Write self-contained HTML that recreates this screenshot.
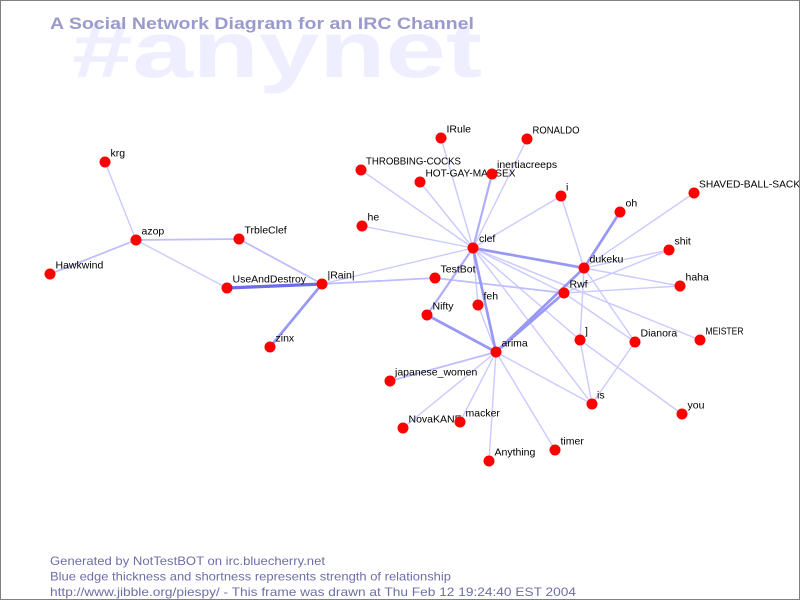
<!DOCTYPE html>
<html><head><meta charset="utf-8"><style>
html,body{margin:0;padding:0;background:#fff;}
#c{position:relative;width:800px;height:600px;box-sizing:border-box;border:1px solid #808080;overflow:hidden;background:#fff;}
svg{position:absolute;left:-1px;top:-1px;}
</style></head><body><div id="c">
<svg width="800" height="600" viewBox="0 0 800 600" xmlns="http://www.w3.org/2000/svg" font-family="Liberation Sans, Arial, sans-serif">
<text x="72" y="77" font-size="80" font-weight="bold" fill="#eeeeff" textLength="410" lengthAdjust="spacingAndGlyphs">#anynet</text>
<text x="50" y="29" font-size="17" font-weight="bold" fill="#9a9acc" textLength="424" lengthAdjust="spacingAndGlyphs">A Social Network Diagram for an IRC Channel</text>
<g stroke-linecap="round" fill="none">
<g stroke="#cacaff" stroke-width="1.4">
<line x1="105" y1="162" x2="136" y2="240"/>
<line x1="136" y1="240" x2="227" y2="288"/>
<line x1="322" y1="284" x2="473" y2="248"/>
<line x1="473" y1="248" x2="441" y2="138"/>
<line x1="473" y1="248" x2="527" y2="139"/>
<line x1="473" y1="248" x2="362" y2="226"/>
<line x1="473" y1="248" x2="561" y2="196"/>
<line x1="473" y1="248" x2="564" y2="293"/>
<line x1="473" y1="248" x2="580" y2="340"/>
<line x1="473" y1="248" x2="592" y2="404"/>
<line x1="473" y1="248" x2="700" y2="340"/>
<line x1="473" y1="248" x2="478" y2="305"/>
<line x1="478" y1="305" x2="496" y2="352"/>
<line x1="584" y1="268" x2="694" y2="193"/>
<line x1="584" y1="268" x2="669" y2="250"/>
<line x1="584" y1="268" x2="680" y2="286"/>
<line x1="584" y1="268" x2="561" y2="196"/>
<line x1="584" y1="268" x2="580" y2="340"/>
<line x1="584" y1="268" x2="635" y2="342"/>
<line x1="564" y1="293" x2="669" y2="250"/>
<line x1="564" y1="293" x2="680" y2="286"/>
<line x1="564" y1="293" x2="635" y2="342"/>
<line x1="580" y1="340" x2="592" y2="404"/>
<line x1="580" y1="340" x2="682" y2="414"/>
<line x1="635" y1="342" x2="592" y2="404"/>
<line x1="496" y1="352" x2="403" y2="428"/>
<line x1="496" y1="352" x2="460" y2="422"/>
<line x1="496" y1="352" x2="489" y2="461"/>
<line x1="496" y1="352" x2="555" y2="450"/>
<line x1="496" y1="352" x2="592" y2="404"/>
<line x1="473" y1="248" x2="361" y2="170"/>
<line x1="473" y1="248" x2="420" y2="182"/>
</g>
<g stroke="#bdbdff" stroke-width="1.8">
<line x1="136" y1="240" x2="50" y2="274"/>
<line x1="136" y1="240" x2="239" y2="239"/>
<line x1="239" y1="239" x2="322" y2="284"/>
<line x1="322" y1="284" x2="435" y2="278"/>
<line x1="435" y1="278" x2="564" y2="293"/>
<line x1="496" y1="352" x2="390" y2="381"/>
</g>
<g stroke="#aeaefc" stroke-width="2.2">
<line x1="473" y1="248" x2="492" y2="174"/>
<line x1="473" y1="248" x2="427" y2="315"/>
</g>
<g stroke="#9898f6" stroke-width="2.7">
<line x1="473" y1="248" x2="584" y2="268"/>
<line x1="473" y1="248" x2="496" y2="352"/>
<line x1="427" y1="315" x2="496" y2="352"/>
<line x1="584" y1="268" x2="620" y2="212"/>
<line x1="584" y1="268" x2="496" y2="352"/>
<line x1="564" y1="293" x2="496" y2="352"/>
<line x1="322" y1="284" x2="270" y2="347"/>
</g>
<line x1="227" y1="288" x2="322" y2="284" stroke="#6d6de8" stroke-width="3.3"/>
</g>
<g font-size="10.5" fill="#000">
<text x="110.5" y="156.5">krg</text>
<text x="141.5" y="234.5">azop</text>
<text x="55.5" y="268.5">Hawkwind</text>
<text x="244.5" y="233.5">TrbleClef</text>
<text x="232.5" y="282.5">UseAndDestroy</text>
<text x="327.5" y="278.5">|Rain|</text>
<text x="275.5" y="341.5">zinx</text>
<text x="446.5" y="132.5">IRule</text>
<text x="532.5" y="133.5" textLength="47" lengthAdjust="spacingAndGlyphs">RONALDO</text>
<text x="366" y="164.5" textLength="95" lengthAdjust="spacingAndGlyphs">THROBBING-COCKS</text>
<text x="425.5" y="176.5" textLength="90" lengthAdjust="spacingAndGlyphs">HOT-GAY-MANSEX</text>
<text x="497" y="168">inertiacreeps</text>
<text x="566" y="190.5">i</text>
<text x="367.5" y="220.5">he</text>
<text x="479" y="242">clef</text>
<text x="440.5" y="272.5">TestBot</text>
<text x="483.5" y="299.5">feh</text>
<text x="432.5" y="309.5">Nifty</text>
<text x="569.5" y="287.5">Rwf</text>
<text x="589.5" y="262.5">dukeku</text>
<text x="625.5" y="206.5">oh</text>
<text x="699" y="187.5" textLength="108" lengthAdjust="spacingAndGlyphs">SHAVED-BALL-SACKS</text>
<text x="674.5" y="244.5">shit</text>
<text x="685.5" y="280.5">haha</text>
<text x="585" y="334.5">]</text>
<text x="640.5" y="336.5">Dianora</text>
<text x="705.5" y="334.5" textLength="38" lengthAdjust="spacingAndGlyphs">MEISTER</text>
<text x="597" y="398.5">is</text>
<text x="687.5" y="408.5">you</text>
<text x="501.5" y="346.5">arima</text>
<text x="395" y="375.5">japanese_women</text>
<text x="408.5" y="422.5">NovaKANE</text>
<text x="465.5" y="416.5">macker</text>
<text x="494.5" y="455.5">Anything</text>
<text x="560.5" y="444.5">timer</text>
</g>
<g fill="#ff0000">
<circle cx="105" cy="162" r="5.5"/><circle cx="136" cy="240" r="5.5"/><circle cx="50" cy="274" r="5.5"/>
<circle cx="239" cy="239" r="5.5"/><circle cx="227" cy="288" r="5.5"/><circle cx="322" cy="284" r="5.5"/>
<circle cx="270" cy="347" r="5.5"/><circle cx="441" cy="138" r="5.5"/><circle cx="527" cy="139" r="5.5"/>
<circle cx="361" cy="170" r="5.5"/><circle cx="420" cy="182" r="5.5"/><circle cx="492" cy="174" r="5.5"/>
<circle cx="561" cy="196" r="5.5"/><circle cx="362" cy="226" r="5.5"/><circle cx="473" cy="248" r="5.5"/>
<circle cx="435" cy="278" r="5.5"/><circle cx="478" cy="305" r="5.5"/><circle cx="427" cy="315" r="5.5"/>
<circle cx="564" cy="293" r="5.5"/><circle cx="584" cy="268" r="5.5"/><circle cx="620" cy="212" r="5.5"/>
<circle cx="694" cy="193" r="5.5"/><circle cx="669" cy="250" r="5.5"/><circle cx="680" cy="286" r="5.5"/>
<circle cx="580" cy="340" r="5.5"/><circle cx="635" cy="342" r="5.5"/><circle cx="700" cy="340" r="5.5"/>
<circle cx="592" cy="404" r="5.5"/><circle cx="682" cy="414" r="5.5"/><circle cx="496" cy="352" r="5.5"/>
<circle cx="390" cy="381" r="5.5"/><circle cx="403" cy="428" r="5.5"/><circle cx="460" cy="422" r="5.5"/>
<circle cx="489" cy="461" r="5.5"/><circle cx="555" cy="450" r="5.5"/>
</g>
<g font-size="12" fill="#6e6ea8">
<text x="50" y="565" textLength="275" lengthAdjust="spacingAndGlyphs">Generated by NotTestBOT on irc.bluecherry.net</text>
<text x="50" y="580.5" textLength="401" lengthAdjust="spacingAndGlyphs">Blue edge thickness and shortness represents strength of relationship</text>
<text x="50" y="596" textLength="526" lengthAdjust="spacingAndGlyphs">http://www.jibble.org/piespy/ - This frame was drawn at Thu Feb 12 19:24:40 EST 2004</text>
</g>
</svg>
</div></body></html>
